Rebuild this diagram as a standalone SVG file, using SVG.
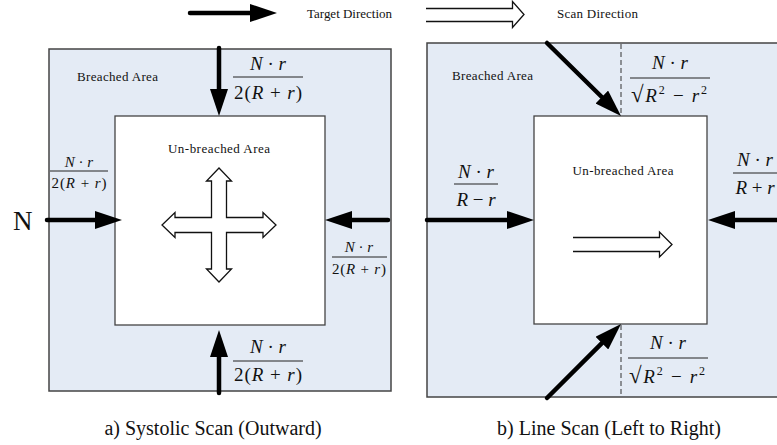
<svg xmlns="http://www.w3.org/2000/svg" width="777" height="445" viewBox="0 0 777 445">
<style>
.t{font-family:"Liberation Serif","Times New Roman",serif;fill:#111}
.i{font-style:italic}
.panel{fill:#E4EBF5;stroke:#444;stroke-width:1.5}
.inner{fill:#fff;stroke:#444;stroke-width:1.3}
.bar{stroke:#222;stroke-width:1}
.force{stroke:#000;stroke-width:4.5;stroke-linecap:round;fill:none;marker-end:url(#ah)}
.hollow{fill:#fff;stroke:#111;stroke-width:1.3;stroke-linejoin:miter}
.dash{stroke:#333;stroke-width:1;stroke-dasharray:5 3}
</style>
<defs>
<marker id="ah" viewBox="0 0 6 4" refX="0" refY="2" markerWidth="6" markerHeight="4" markerUnits="strokeWidth" orient="auto">
<path d="M0,0 L6,2 L0,4 z" fill="#000"/>
</marker>
</defs>

<g id="legend">
<line class="force" x1="190" y1="13" x2="250" y2="13"/>
<text class="t" x="307" y="18" font-size="13" textLength="85" lengthAdjust="spacing">Target Direction</text>
<path class="hollow" d="M426,8.5 H512.5 V1.5 L524,14.5 L512.5,27.5 V21.5 H426"/>
<text class="t" x="557" y="18" font-size="13" textLength="81" lengthAdjust="spacing">Scan Direction</text>
</g>

<g id="panel-a">
<rect class="panel" x="49" y="49" width="342" height="342"/>
<rect class="inner" x="115" y="116" width="210" height="209"/>
<text class="t" x="77" y="81" font-size="13" textLength="81" lengthAdjust="spacing">Breached Area</text>
<text class="t" x="219" y="153" font-size="13" text-anchor="middle" textLength="102" lengthAdjust="spacing">Un-breached Area</text>
<text class="t" x="13" y="230" font-size="27">N</text>
<path id="cross" class="hollow" d="M219,168 L231.5,181 H226.5 V217.5 H263 V212.5 L276,225 L263,237.5 V232.5 H226.5 V269 H231.5 L219,282 L206.5,269 H211.5 V232.5 H175 V237.5 L162,225 L175,212.5 V217.5 H211.5 V181 H206.5 Z"/>
<text class="t" x="213" y="435" font-size="20" text-anchor="middle">a) Systolic Scan (Outward)</text>
</g>

<g id="panel-b">
<rect class="panel" x="427" y="43" width="370" height="354"/>
<rect class="inner" x="534" y="116" width="173" height="208"/>
<line class="dash" x1="621" y1="44" x2="621" y2="116"/>
<line class="dash" x1="621" y1="325" x2="621" y2="397"/>
<text class="t" x="452" y="80" font-size="13" textLength="81" lengthAdjust="spacing">Breached Area</text>
<text class="t" x="623" y="175" font-size="13" text-anchor="middle" textLength="101" lengthAdjust="spacing">Un-breached Area</text>
<path class="hollow" d="M573,237.5 H659.5 V232 L672,244.5 L659.5,257 V251.5 H573"/>
<text class="t" x="609" y="435" font-size="20" text-anchor="middle">b) Line Scan (Left to Right)</text>
</g>

<g id="labels">
<g id="f-top-a">
<text class="t" x="268" y="70" font-size="19" text-anchor="middle"><tspan class="i">N</tspan> · <tspan class="i">r</tspan></text>
<line class="bar" x1="233" y1="77" x2="303" y2="77"/>
<text class="t" x="268" y="99" font-size="19" text-anchor="middle" textLength="68" lengthAdjust="spacing">2(<tspan class="i">R</tspan> + <tspan class="i">r</tspan>)</text>
</g>
<g id="f-left-a">
<text class="t" x="79" y="167" font-size="15" text-anchor="middle"><tspan class="i">N</tspan> · <tspan class="i">r</tspan></text>
<line class="bar" x1="50" y1="171" x2="108" y2="171"/>
<text class="t" x="79" y="188" font-size="15" text-anchor="middle" textLength="55" lengthAdjust="spacing">2(<tspan class="i">R</tspan> + <tspan class="i">r</tspan>)</text>
</g>
<g id="f-right-a">
<text class="t" x="359" y="252" font-size="15" text-anchor="middle"><tspan class="i">N</tspan> · <tspan class="i">r</tspan></text>
<line class="bar" x1="332" y1="257" x2="387" y2="257"/>
<text class="t" x="359" y="274" font-size="15" text-anchor="middle" textLength="54" lengthAdjust="spacing">2(<tspan class="i">R</tspan> + <tspan class="i">r</tspan>)</text>
</g>
<g id="f-bottom-a">
<text class="t" x="268" y="353" font-size="19" text-anchor="middle"><tspan class="i">N</tspan> · <tspan class="i">r</tspan></text>
<line class="bar" x1="233" y1="361" x2="303" y2="361"/>
<text class="t" x="268" y="381" font-size="19" text-anchor="middle" textLength="68" lengthAdjust="spacing">2(<tspan class="i">R</tspan> + <tspan class="i">r</tspan>)</text>
</g>
<g id="f-top-b">
<text class="t" x="670" y="69" font-size="19" text-anchor="middle"><tspan class="i">N</tspan> · <tspan class="i">r</tspan></text>
<line class="bar" x1="630" y1="78" x2="710" y2="78"/>
<text class="t" x="631" y="102" font-size="19" textLength="76" lengthAdjust="spacing"><tspan font-size="23">√</tspan><tspan class="i">R</tspan><tspan dy="-8" font-size="12">2</tspan><tspan dy="8"> − </tspan><tspan class="i">r</tspan><tspan dy="-8" font-size="12">2</tspan></text>
</g>
<g id="f-bottom-b">
<text class="t" x="668" y="349" font-size="19" text-anchor="middle"><tspan class="i">N</tspan> · <tspan class="i">r</tspan></text>
<line class="bar" x1="628" y1="358" x2="708" y2="358"/>
<text class="t" x="629" y="383" font-size="19" textLength="76" lengthAdjust="spacing"><tspan font-size="23">√</tspan><tspan class="i">R</tspan><tspan dy="-8" font-size="12">2</tspan><tspan dy="8"> − </tspan><tspan class="i">r</tspan><tspan dy="-8" font-size="12">2</tspan></text>
</g>
<g id="f-left-b">
<text class="t" x="476" y="178" font-size="19" text-anchor="middle"><tspan class="i">N</tspan> · <tspan class="i">r</tspan></text>
<line class="bar" x1="454" y1="184" x2="498" y2="184"/>
<text class="t" x="476" y="206" font-size="19" text-anchor="middle"><tspan class="i">R</tspan> − <tspan class="i">r</tspan></text>
</g>
<g id="f-right-b">
<text class="t" x="755" y="166" font-size="19" text-anchor="middle"><tspan class="i">N</tspan> · <tspan class="i">r</tspan></text>
<line class="bar" x1="733" y1="173" x2="790" y2="173"/>
<text class="t" x="755" y="194" font-size="19" text-anchor="middle"><tspan class="i">R</tspan> + <tspan class="i">r</tspan></text>
</g>
</g>

<g id="connectors">
<line class="force" x1="219" y1="48" x2="219" y2="89"/>
<line class="force" x1="47" y1="220" x2="95" y2="220"/>
<line class="force" x1="388" y1="220" x2="352" y2="220"/>
<line class="force" x1="219" y1="393" x2="219" y2="357"/>
<line class="force" x1="547" y1="43" x2="601.8" y2="97"/>
<line class="force" x1="547" y1="398" x2="601.9" y2="343.1"/>
<line class="force" x1="427" y1="220" x2="507" y2="220"/>
<line class="force" x1="795" y1="220" x2="735" y2="220"/>
</g>
</svg>
